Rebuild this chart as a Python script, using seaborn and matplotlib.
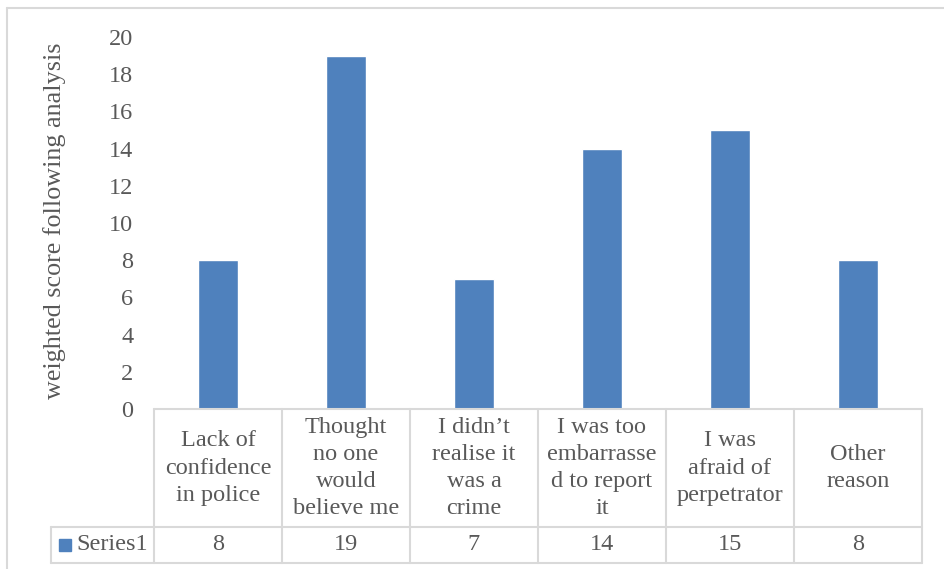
import numpy as np
import pandas as pd
import matplotlib
matplotlib.use("Agg")
import matplotlib.pyplot as plt
import matplotlib.transforms as mtransforms
from matplotlib.lines import Line2D
from matplotlib.patches import Rectangle
import seaborn as sns

# dados
categorias = ["Lack of\nconfidence\nin police", "Thought\nno one\nwould\nbelieve me",
              "I didn\u2019t\nrealise it\nwas a\ncrime", "I was too\nembarrasse\nd to report\nit",
              "I was\nafraid of\nperpetrator", "Other\nreason"]
valores = [8, 19, 7, 14, 15, 8]
serie = "Series1"
y_ticks = [0, 2, 4, 6, 8, 10, 12, 14, 16, 18, 20]

sns.set_theme(style="white")
plt.rcParams['font.family'] = ['Liberation Serif', 'DejaVu Serif']

cor_barra = "#4F81BD"
cor_texto = "#595959"
cor_linha = "#D9D9D9"
W, H = 945, 569
fs = 17.5

fig = plt.figure(figsize=(W / 100, H / 100), dpi=100)
# area do grafico: x 154..922 px, y 37..409 px
ax = fig.add_axes([154 / W, 1 - 409 / H, 768 / W, 372 / H])

df = pd.DataFrame({"cat": categorias, "val": valores})
sns.barplot(data=df, x="cat", y="val", color=cor_barra, width=0.31,
            saturation=1, ax=ax)

ax.set_xlim(-0.5, len(categorias) - 0.5)
ax.set_ylim(0, 20)
ax.set_yticks(y_ticks)
ax.set_yticklabels([str(t) for t in y_ticks], fontsize=fs, color=cor_texto)
ax.tick_params(axis="y", length=0, pad=15)
ax.set_xticks([])
ax.set_xlabel("")
ax.set_ylabel("weighted score following analysis", fontsize=18.8, color=cor_texto)
ax.yaxis.set_label_coords(-0.114, 0.505)
for s in ax.spines.values():
    s.set_visible(False)

# tabela de dados
trans = mtransforms.blended_transform_factory(ax.transData, ax.transAxes)
y_cab = -118 / 372
y_val = -154 / 372
x_serie = -0.5 - 103 / 128
n = len(categorias)
kw = dict(transform=trans, color=cor_linha, lw=1.5, clip_on=False)
ax.add_artist(Line2D([-0.5, n - 0.5], [0, 0], **kw))
ax.add_artist(Line2D([x_serie, n - 0.5], [y_cab, y_cab], **kw))
ax.add_artist(Line2D([x_serie, n - 0.5], [y_val, y_val], **kw))
ax.add_artist(Line2D([x_serie, x_serie], [y_cab, y_val], **kw))
for i in range(n + 1):
    ax.add_artist(Line2D([i - 0.5, i - 0.5], [0, y_val], **kw))

for i, (c, v) in enumerate(zip(categorias, valores)):
    ax.text(i, y_cab / 2, c, transform=trans, ha="center", va="center",
            fontsize=fs, color=cor_texto, linespacing=1.39)
    ax.text(i, (y_cab + y_val) / 2, str(v), transform=trans, ha="center",
            va="center", fontsize=fs, color=cor_texto)

# legenda na tabela
ax.add_patch(Rectangle((x_serie + 8 / 128, (y_cab + y_val) / 2 - 6 / 372), 12 / 128, 12 / 372,
                       transform=trans, color=cor_barra, clip_on=False))
ax.text(x_serie + 25 / 128, (y_cab + y_val) / 2, serie, transform=trans,
        ha="left", va="center", fontsize=fs, color=cor_texto)

# borda do grafico
fig.add_artist(Line2D([7 / W, 1], [1 - 8 / H, 1 - 8 / H], color=cor_linha, lw=1.5))
fig.add_artist(Line2D([7 / W, 7 / W], [0, 1 - 8 / H], color=cor_linha, lw=1.5))

fig.savefig("out.png", dpi=100)
